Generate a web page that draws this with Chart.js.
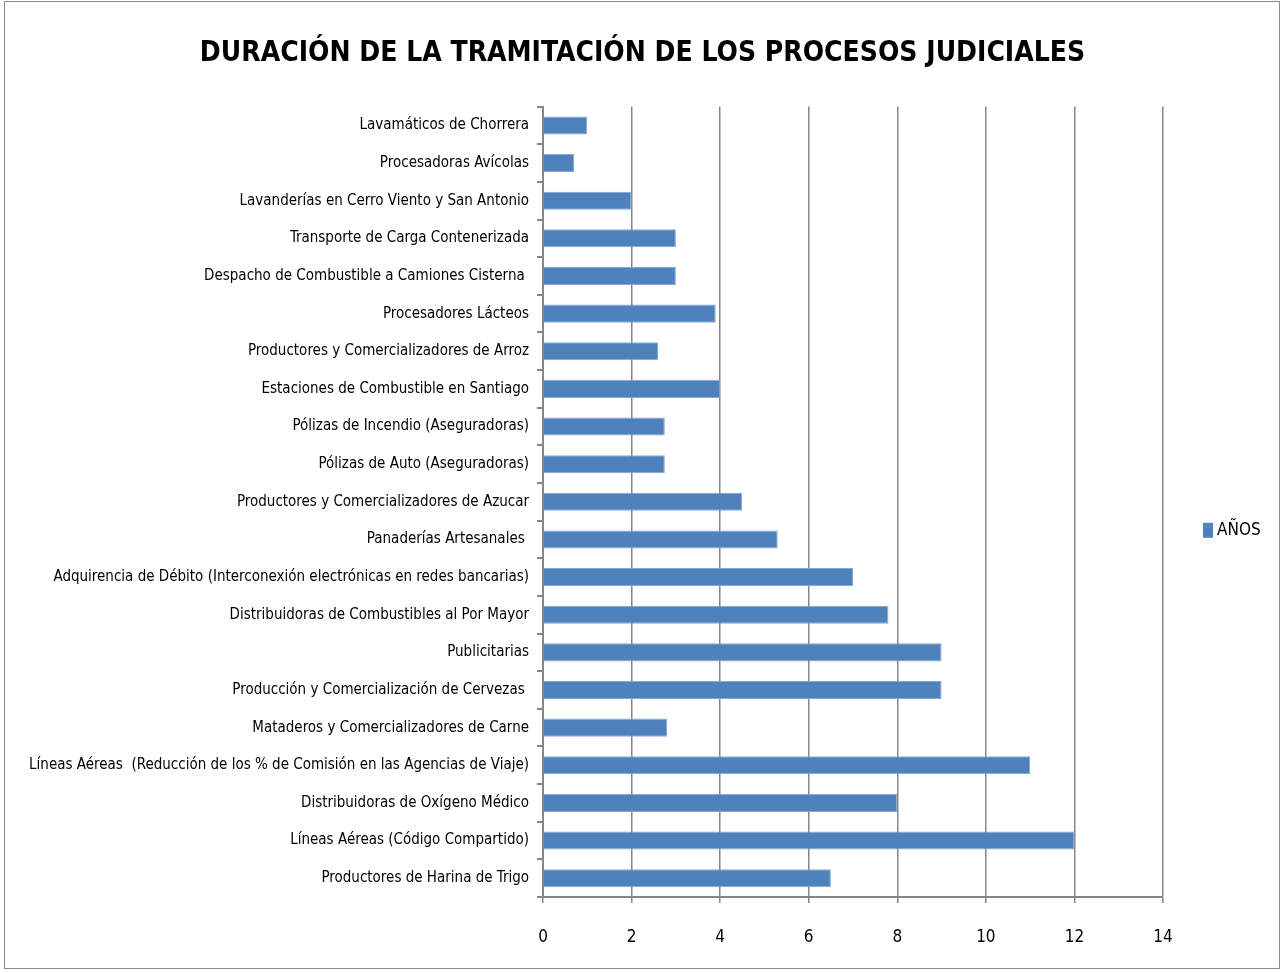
<!DOCTYPE html>
<html>
<head>
<meta charset="utf-8">
<script src="https://cdn.jsdelivr.net/npm/chart.js@4"></script>
<style>
  body { margin: 0; background: #fff; }
  #frame { position: absolute; left: 4px; top: 1px; width: 1274px; height: 966px; border: 1px solid #8a8a8a; }
  #chart { position: absolute; left: 0; top: 0; }
</style>
</head>
<body>
<div id="frame"></div>
<canvas id="chart" width="1285" height="973"></canvas>
<script>
// categories, top to bottom as in the picture
const categories = [
  "Lavamáticos de Chorrera",
  "Procesadoras Avícolas",
  "Lavanderías en Cerro Viento y San Antonio",
  "Transporte de Carga Contenerizada",
  "Despacho de Combustible a Camiones Cisterna ",
  "Procesadores Lácteos",
  "Productores y Comercializadores de Arroz",
  "Estaciones de Combustible en Santiago",
  "Pólizas de Incendio (Aseguradoras)",
  "Pólizas de Auto (Aseguradoras)",
  "Productores y Comercializadores de Azucar",
  "Panaderías Artesanales ",
  "Adquirencia de Débito (Interconexión electrónicas en redes bancarias)",
  "Distribuidoras de Combustibles al Por Mayor",
  "Publicitarias",
  "Producción y Comercialización de Cervezas ",
  "Mataderos y Comercializadores de Carne",
  "Líneas Aéreas  (Reducción de los % de Comisión en las Agencias de Viaje)",
  "Distribuidoras de Oxígeno Médico",
  "Líneas Aéreas (Código Compartido)",
  "Productores de Harina de Trigo"
];
const anos = [1, 0.7, 2, 3, 3, 3.9, 2.6, 4, 2.75, 2.75, 4.5, 5.3, 7, 7.8, 9, 9, 2.8, 11, 8, 12, 6.5];
const xTicks = [0, 2, 4, 6, 8, 10, 12, 14];

const font = "'Liberation Sans Narrow', 'DejaVu Sans Condensed', 'Open Sans', sans-serif";
const axisGray = "#868686";

// legend as its own layout box on the right, so the title stays centred on the whole canvas
const sideLegend = {
  id: "sideLegend",
  beforeInit(chart) {
    Chart.layouts.addBox(chart, {
      position: "right",
      fullSize: false,
      weight: 5,
      options: {},
      isHorizontal() { return false; },
      getPadding() { return { left: 0, right: 0, top: 0, bottom: 0 }; },
      update(maxW, maxH) { this.width = 122; this.height = maxH; },
      draw() {
        const { ctx, chartArea } = chart;
        const ds = chart.data.datasets[0];
        const x = this.left + 40;
        const y = (chartArea.top + chartArea.bottom) / 2 + 28;
        ctx.save();
        ctx.fillStyle = ds.backgroundColor;
        ctx.fillRect(x, y - 7, 10, 15);
        ctx.fillStyle = "#000";
        ctx.font = "17px " + font;
        ctx.textBaseline = "middle";
        ctx.fillText(ds.label, x + 14, y + 1);
        ctx.restore();
      }
    });
  }
};

new Chart(document.getElementById("chart"), {
  type: "bar",
  data: {
    labels: categories,
    datasets: [{
      label: "AÑOS",
      data: anos,
      backgroundColor: "#4F81BD",
      borderColor: "#86A8D4",
      borderWidth: 1,
      categoryPercentage: 1,
      barPercentage: 0.48
    }]
  },
  options: {
    indexAxis: "y",
    responsive: false,
    animation: false,
    layout: { padding: { left: 0, right: 0, top: 0, bottom: 20 } },
    plugins: {
      title: {
        display: true,
        text: "DURACIÓN DE LA TRAMITACIÓN DE LOS PROCESOS JUDICIALES",
        color: "#000",
        font: { family: font, size: 28, weight: "bold", lineHeight: 1.2 },
        padding: { top: 37, bottom: 36 }
      },
      legend: { display: false },
      tooltip: { enabled: false }
    },
    scales: {
      x: {
        min: 0,
        max: 14,
        afterFit: (s) => { s.height = 56; },
        afterBuildTicks: (s) => { s.ticks = xTicks.map(v => ({ value: v })); },
        grid: { color: axisGray, lineWidth: 1.5, tickLength: 6 },
        border: { color: axisGray, width: 2 },
        ticks: { color: "#000", font: { family: font, size: 17 }, padding: 24 }
      },
      y: {
        afterFit: (s) => { s.width = 543; },
        grid: { offset: true, drawOnChartArea: false, color: axisGray, lineWidth: 2, tickLength: 6 },
        border: { color: axisGray, width: 2 },
        ticks: { color: "#000", font: { family: font, size: 15 }, padding: 8, autoSkip: false }
      }
    }
  },
  plugins: [sideLegend]
});
</script>
</body>
</html>
